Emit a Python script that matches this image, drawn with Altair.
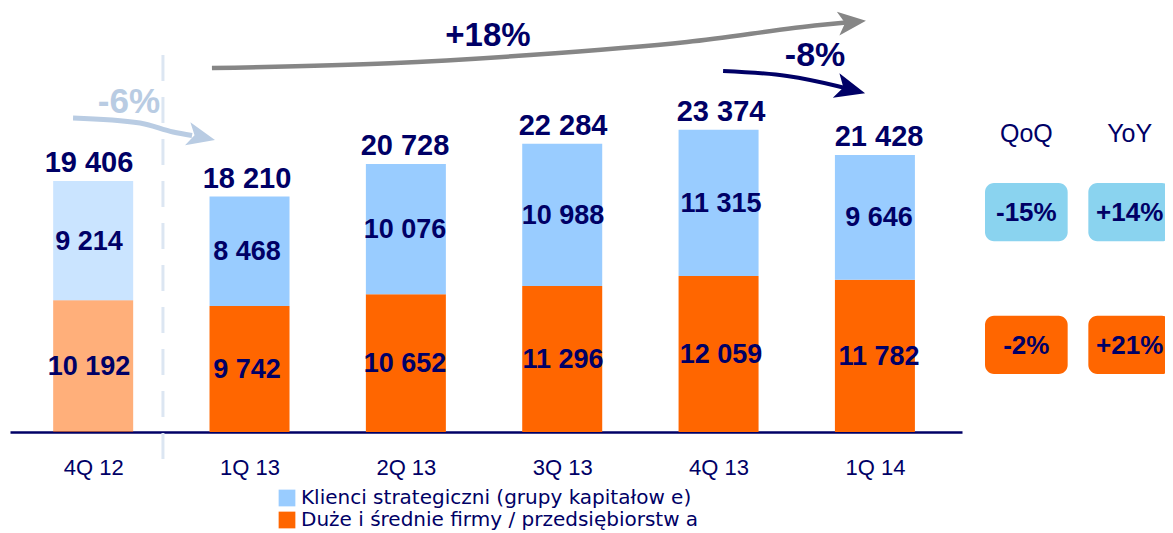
import altair as alt
import pandas as pd

# ---------------- data ----------------
quarters = ["4Q 12", "1Q 13", "2Q 13", "3Q 13", "4Q 13", "1Q 14"]
strategic = [9214, 8468, 10076, 10988, 11315, 9646]      # Klienci strategiczni
midsize = [10192, 9742, 10652, 11296, 12059, 11782]      # Duże i średnie firmy
series_names = ["Klienci strategiczni (grupy kapitałow e)",
                "Duże i średnie firmy / przedsiębiorstw a"]
change_cols = ["QoQ", "YoY"]
qoq_changes = ["-15%", "-2%"]
yoy_changes = ["+14%", "+21%"]

trend_labels = ["+18%", "-8%", "-6%"]

# annotation geometry (x = quarter index, y = value units)
trend_label_x = [2.525, 4.595, 0.253]
trend_label_y = [30704, 29119, 25561]
arrow_18_x = [0.778, 1.905, 2.791, 3.785, 4.627, 4.791]
arrow_18_y = [28152, 28515, 29157, 30162, 31477, 31671]
arrow_8_x = [4.013, 4.418, 4.734, 4.804]
arrow_8_y = [27920, 27533, 26759, 26543]
arrow_6_x = [-0.101, 0.323, 0.532, 0.652]
arrow_6_y = [24285, 23898, 23202, 22931]
head_x = [4.829, 4.820, 0.711]
head_y = [31694, 26497, 22823]
divider_x = 0.468
divider_y = [29157, -2165]

NAVY = "#000066"
FONT = "Liberation Sans"
LEGEND_FONT = "DejaVu Sans"
GRAY = "#868686"
PALE = "#b9cce3"
BLUE = "#99ccff"
ORANGE = "#ff6600"
BOX_BLUE = "#8ad3ef"


def fmt(v):
    return f"{v:,}".replace(",", " ")


rows = []
for i, q in enumerate(quarters):
    m, s = midsize[i], strategic[i]
    rows.append(dict(quarter=q, idx=i, series=series_names[1], y0=0, y1=m,
                     mid=m / 2, label=fmt(m)))
    rows.append(dict(quarter=q, idx=i, series=series_names[0], y0=m, y1=m + s,
                     mid=m + s / 2, label=fmt(s)))
seg = pd.DataFrame(rows)
tot = pd.DataFrame({"idx": range(len(quarters)), "quarter": quarters,
                    "total": [a + b for a, b in zip(strategic, midsize)]})
tot["label"] = tot["total"].map(fmt)

XS = alt.Scale(domain=[-0.5, 5.525], range=[2, 954], nice=False, zero=False)
YS = alt.Scale(domain=[0, 32792], nice=False, zero=False)

label_expr = "[" + ",".join(f"'{q}'" for q in quarters) + "][datum.value]"

bars = alt.Chart(seg).mark_bar(size=80).encode(
    x=alt.X("idx:Q", scale=XS, axis=alt.Axis(
        values=list(range(len(quarters))), labelExpr=label_expr, title=None,
        domain=True, domainColor=NAVY, domainWidth=2.5, ticks=False, grid=False,
        labelFontSize=22, labelFont=FONT, labelColor=NAVY, labelPadding=25,
        labelBaseline="top")),
    y=alt.Y("y0:Q", scale=YS, axis=None),
    y2="y1:Q",
    color=alt.Color("series:N", scale=alt.Scale(domain=series_names, range=[BLUE, ORANGE]),
                    legend=alt.Legend(title=None, orient="none", legendX=269, legendY=480,
                                      direction="vertical", symbolType="square",
                                      symbolSize=280, symbolOpacity=1, symbolStrokeWidth=0,
                                      labelFontSize=20, labelFont=LEGEND_FONT, labelColor=NAVY,
                                      labelOffset=4, rowPadding=2, padding=0, labelLimit=0)),
    opacity=alt.condition(alt.datum.quarter == quarters[0], alt.value(0.52), alt.value(1)),
)

seg_text = alt.Chart(seg).mark_text(font=FONT, fontSize=27, fontWeight="bold",
                                    color=NAVY, baseline="middle", dy=1).encode(
    x=alt.X("idx:Q", scale=XS, axis=None),
    y=alt.Y("mid:Q", scale=YS, axis=None),
    text="label:N",
)

tot_text = alt.Chart(tot).mark_text(font=FONT, fontSize=29, fontWeight="bold",
                                    color=NAVY, baseline="alphabetic", dy=-9).encode(
    x=alt.X("idx:Q", scale=XS, axis=None),
    y=alt.Y("total:Q", scale=YS, axis=None),
    text="label:N",
)

divider = alt.Chart(pd.DataFrame({"x": [divider_x], "y": [divider_y[0]], "y2": [divider_y[1]]})).mark_rule(
    color="#dce6f2", strokeWidth=3, strokeDash=[26, 16]).encode(
    x=alt.X("x:Q", scale=XS, axis=None),
    y=alt.Y("y:Q", scale=YS, axis=None),
    y2="y2:Q",
)


def arrow_line(xs, ys, color, width):
    return alt.Chart(pd.DataFrame({"x": xs, "y": ys})).mark_line(
        color=color, strokeWidth=width, interpolate="monotone", strokeCap="butt").encode(
        x=alt.X("x:Q", scale=XS, axis=None),
        y=alt.Y("y:Q", scale=YS, axis=None),
    )


ARROW = "M-1,-0.85L1,0L-1,0.85L-0.5,0Z"


def arrow_head(i, color, size, angle):
    return alt.Chart(pd.DataFrame({"x": [head_x[i]], "y": [head_y[i]]})).mark_point(
        shape=ARROW, filled=True, opacity=1, strokeWidth=0, size=size, angle=angle,
        color=color).encode(
        x=alt.X("x:Q", scale=XS, axis=None),
        y=alt.Y("y:Q", scale=YS, axis=None),
    )


def trend_text(i, color, size):
    return alt.Chart(pd.DataFrame({"x": [trend_label_x[i]], "y": [trend_label_y[i]],
                                   "t": [trend_labels[i]]})).mark_text(
        font=FONT, fontSize=size, fontWeight="bold", color=color, baseline="middle", dy=1).encode(
        x=alt.X("x:Q", scale=XS, axis=None),
        y=alt.Y("y:Q", scale=YS, axis=None),
        text="t:N",
    )


boxes_df = pd.DataFrame({
    "col": [change_cols[0]] * 2 + [change_cols[1]] * 2,
    "row": series_names * 2,
    "t": qoq_changes + yoy_changes,
})
BX = alt.Scale(type="band", domain=change_cols, range=[977, 1163], paddingInner=0.2, paddingOuter=0)
BY = alt.Scale(type="band", domain=series_names, range=[175, 366], paddingInner=0.56, paddingOuter=0)

boxes = alt.Chart(boxes_df).mark_rect(cornerRadius=9).encode(
    x=alt.X("col:N", scale=BX, axis=None),
    y=alt.Y("row:N", scale=BY, axis=None),
    fill=alt.condition(alt.datum.row == series_names[0], alt.value(BOX_BLUE), alt.value(ORANGE)),
)
box_text = alt.Chart(boxes_df).mark_text(font=FONT, fontSize=26, fontWeight="bold",
                                         color=NAVY, baseline="middle", dy=1).encode(
    x=alt.X("col:N", scale=BX, axis=None),
    y=alt.Y("row:N", scale=BY, axis=None),
    text="t:N",
)
headers = alt.Chart(pd.DataFrame({"col": change_cols, "row": [series_names[0]] * 2})).mark_text(
    font=FONT, fontSize=25, color=NAVY, baseline="middle", dy=-78).encode(
    x=alt.X("col:N", scale=BX, axis=None),
    y=alt.Y("row:N", scale=BY, axis=None),
    text="col:N",
)

chart = alt.layer(
    divider, bars, seg_text, tot_text,
    arrow_line(arrow_18_x, arrow_18_y, GRAY, 4.5), arrow_head(0, GRAY, 784, 354),
    arrow_line(arrow_8_x, arrow_8_y, NAVY, 4), arrow_head(1, NAVY, 900, 15),
    arrow_line(arrow_6_x, arrow_6_y, PALE, 5), arrow_head(2, PALE, 784, 13),
    trend_text(0, NAVY, 33), trend_text(1, NAVY, 34), trend_text(2, PALE, 35),
    boxes, box_text, headers,
).resolve_scale(x="independent", y="independent").properties(
    width=1157, height=424,
    autosize=alt.AutoSizeParams(type="none"),
    padding={"left": 0, "top": 0, "right": 0, "bottom": 101},
    background="white",
).configure_view(stroke=None)

chart.save("out.html", embed_options={"renderer": "svg", "actions": False})
